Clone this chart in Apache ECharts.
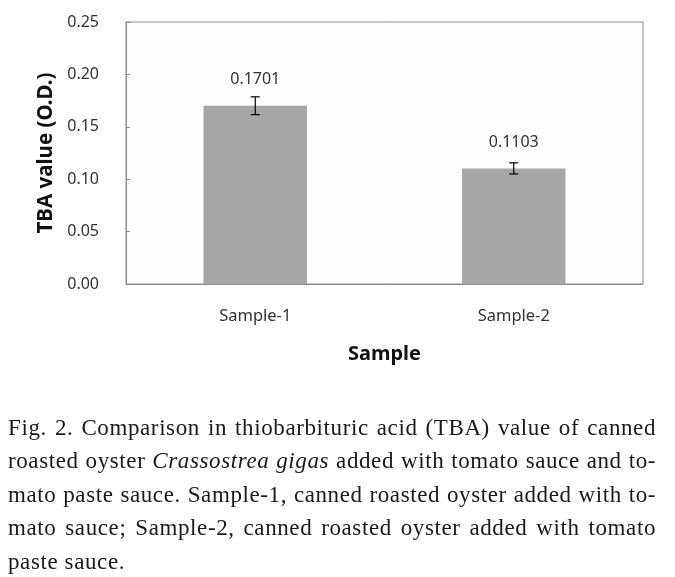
<!DOCTYPE html>
<html>
<head>
<meta charset="utf-8">
<script src="https://cdn.jsdelivr.net/npm/echarts@6/dist/echarts.min.js"></script>
<style>
html,body{margin:0;padding:0;background:#fff;}
#wrap{position:relative;width:675px;height:577px;overflow:hidden;}
#chart{position:absolute;left:0;top:0;width:675px;height:577px;}
#caption{position:absolute;left:8px;top:411px;width:648px;font-family:"Liberation Serif","Times New Roman",serif;font-size:23px;line-height:33.4px;color:#1a1a1a;letter-spacing:0.6px;}
#caption .j{display:block;white-space:nowrap;text-align:justify;text-align-last:justify;}
#caption .l{display:block;white-space:nowrap;}
</style>
</head>
<body>
<div id="wrap">
<div id="chart"></div>
<div id="caption"><span class="j">Fig. 2. Comparison in thiobarbituric acid (TBA) value of canned</span><span class="j">roasted oyster <i>Crassostrea gigas</i> added with tomato sauce and to-</span><span class="j">mato paste sauce. Sample-1, canned roasted oyster added with to-</span><span class="j">mato sauce; Sample-2, canned roasted oyster added with tomato</span><span class="l">paste sauce.</span></div>
</div>
<script>
var categories = ['Sample-1', 'Sample-2'];
var values = [0.1701, 0.1103];
var errors = [0.0085, 0.0053];
var yTicks = [0, 0.05, 0.10, 0.15, 0.20, 0.25];

var chart = echarts.init(document.getElementById('chart'));
var font = '"Noto Sans", "Open Sans", sans-serif';
chart.setOption({
  animation: false,
  backgroundColor: '#ffffff',
  grid: {left: 126, right: 32, top: 22, bottom: 293, show: true, borderColor: '#8c8c8c', borderWidth: 1, backgroundColor: '#fdfdfd'},
  xAxis: {
    type: 'category', data: categories,
    name: 'Sample', nameLocation: 'middle', nameGap: 60,
    nameTextStyle: {fontFamily: font, fontWeight: 'bold', fontSize: 20, color: '#111'},
    axisLine: {lineStyle: {color: '#8c8c8c'}},
    axisTick: {inside: true, length: 6, lineStyle: {color: '#8c8c8c'}},
    axisLabel: {margin: 24, fontFamily: font, fontSize: 16.5, color: '#333'}
  },
  yAxis: {
    type: 'value', min: yTicks[0], max: yTicks[yTicks.length - 1], interval: 0.05,
    name: 'TBA value (O.D.)', nameLocation: 'middle', nameGap: 69,
    nameTextStyle: {fontFamily: font, fontWeight: 'bold', fontSize: 20.5, color: '#111'},
    axisLine: {show: true, lineStyle: {color: '#8c8c8c'}},
    axisTick: {show: true, inside: true, length: 4, lineStyle: {color: '#8c8c8c'}},
    splitLine: {show: false},
    axisLabel: {margin: 27, fontFamily: font, fontSize: 16, color: '#333', formatter: function (v) { return v.toFixed(2); }}
  },
  series: [{
    type: 'bar', data: values, barWidth: '40%',
    itemStyle: {color: '#a6a6a6'},
    label: {show: true, position: 'top', distance: 18, fontFamily: font, fontSize: 16, color: '#333',
      formatter: function (p) { return p.value.toFixed(4); }}
  }, {
    type: 'custom',
    data: values.map(function (v, i) { return [i, v - errors[i], v + errors[i]]; }),
    renderItem: function (params, api) {
      var lo = api.coord([api.value(0), api.value(1)]);
      var hi = api.coord([api.value(0), api.value(2)]);
      var hw = 4.5;
      var st = {stroke: '#000', lineWidth: 1.2};
      return {type: 'group', children: [
        {type: 'line', shape: {x1: hi[0], y1: hi[1], x2: lo[0], y2: lo[1]}, style: st},
        {type: 'line', shape: {x1: hi[0] - hw, y1: hi[1], x2: hi[0] + hw, y2: hi[1]}, style: st},
        {type: 'line', shape: {x1: lo[0] - hw, y1: lo[1], x2: lo[0] + hw, y2: lo[1]}, style: st}
      ]};
    },
    z: 5
  }]
});
</script>
</body>
</html>
